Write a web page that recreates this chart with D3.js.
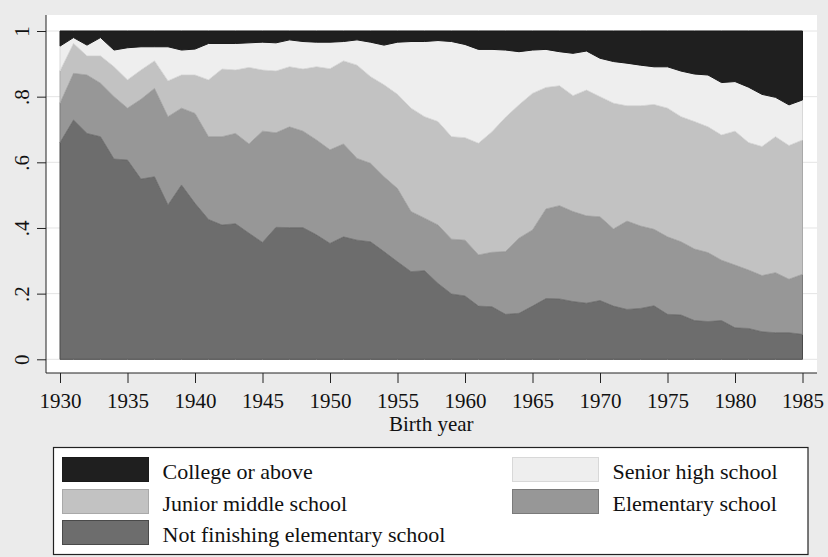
<!DOCTYPE html>
<html>
<head>
<meta charset="utf-8">
<script src="https://cdn.jsdelivr.net/npm/d3@7"></script>
<style>
  html, body { margin: 0; padding: 0; background: #ebebeb; }
  svg { display: block; }
  text { font-family: "Liberation Serif", "Times New Roman", serif; fill: #111; }
</style>
</head>
<body>
<svg id="chart" width="828" height="557"></svg>
<script>
const years = d3.range(1930, 1986);

const notFinishing = [0.660,0.729,0.688,0.678,0.610,0.607,0.549,0.556,0.470,0.531,
  0.475,0.426,0.409,0.413,0.384,0.356,0.402,0.401,0.401,0.379,
  0.353,0.373,0.363,0.358,0.328,0.297,0.267,0.270,0.231,0.199,
  0.193,0.162,0.160,0.137,0.140,0.162,0.185,0.184,0.176,0.171,
  0.179,0.162,0.152,0.155,0.163,0.137,0.135,0.118,0.115,0.118,
  0.096,0.094,0.084,0.081,0.081,0.076];

const elementary = [0.120,0.142,0.178,0.163,0.190,0.158,0.243,0.269,0.269,0.234,
  0.274,0.252,0.269,0.275,0.272,0.339,0.288,0.307,0.294,0.289,
  0.285,0.283,0.249,0.239,0.228,0.223,0.183,0.160,0.178,0.167,
  0.170,0.156,0.166,0.191,0.229,0.232,0.273,0.284,0.274,0.266,
  0.255,0.235,0.269,0.251,0.233,0.236,0.223,0.218,0.210,0.184,
  0.191,0.178,0.171,0.183,0.163,0.183];

const junior = [0.098,0.091,0.058,0.083,0.091,0.086,0.089,0.084,0.109,0.101,
  0.117,0.173,0.206,0.193,0.233,0.186,0.188,0.183,0.189,0.223,
  0.247,0.253,0.284,0.264,0.280,0.287,0.315,0.309,0.315,0.312,
  0.312,0.340,0.367,0.409,0.406,0.416,0.370,0.365,0.353,0.383,
  0.366,0.383,0.351,0.366,0.380,0.392,0.381,0.388,0.383,0.381,
  0.408,0.388,0.393,0.414,0.407,0.409];

const senior = [0.076,0.018,0.033,0.056,0.051,0.098,0.071,0.043,0.104,0.076,
  0.079,0.111,0.078,0.081,0.075,0.085,0.086,0.082,0.084,0.075,
  0.081,0.059,0.077,0.105,0.121,0.159,0.203,0.229,0.247,0.290,
  0.284,0.286,0.251,0.205,0.162,0.132,0.116,0.104,0.129,0.119,
  0.117,0.127,0.130,0.124,0.115,0.126,0.139,0.145,0.158,0.160,
  0.151,0.169,0.159,0.120,0.124,0.122];

const college = [0.046,0.020,0.043,0.020,0.058,0.051,0.048,0.048,0.048,0.058,
  0.055,0.038,0.038,0.038,0.036,0.034,0.036,0.027,0.032,0.034,
  0.034,0.032,0.027,0.034,0.043,0.034,0.032,0.032,0.029,0.032,
  0.041,0.056,0.056,0.058,0.063,0.058,0.056,0.063,0.068,0.061,
  0.083,0.093,0.098,0.104,0.109,0.109,0.122,0.131,0.134,0.157,
  0.154,0.171,0.193,0.202,0.225,0.210];

const seriesKeys = ["notFinishing", "elementary", "junior", "senior", "college"];
const seriesLabels = {
  college: "College or above",
  senior: "Senior high school",
  junior: "Junior middle school",
  elementary: "Elementary school",
  notFinishing: "Not finishing elementary school"
};
const seriesColors = {
  college: "#1f1f1f",
  senior: "#eeeeee",
  junior: "#c2c2c2",
  elementary: "#979797",
  notFinishing: "#6d6d6d"
};
const strokeColors = {
  college: "#1a1a1a",
  senior: "#d8d8d8",
  junior: "#a9a9a9",
  elementary: "#7a7a7a",
  notFinishing: "#4a4a4a"
};
const xTicks = [1930,1935,1940,1945,1950,1955,1960,1965,1970,1975,1980,1985];
const yTicks = [0, 0.2, 0.4, 0.6, 0.8, 1];
const yTickLabels = ["0", ".2", ".4", ".6", ".8", "1"];

const table = years.map((yr, i) => ({
  year: yr,
  notFinishing: notFinishing[i],
  elementary: elementary[i],
  junior: junior[i],
  senior: senior[i],
  college: college[i]
}));

const svg = d3.select("#chart");

// plot region (white)
const region = { left: 46, right: 817, top: 15, bottom: 373 };
svg.append("rect")
  .attr("x", region.left).attr("y", region.top)
  .attr("width", region.right - region.left)
  .attr("height", region.bottom - region.top)
  .attr("fill", "#ffffff");

const x = d3.scaleLinear().domain([1930, 1985]).range([60, 802.5]);
const y = d3.scaleLinear().domain([0, 1]).range([359.3, 31]);

// gridlines
svg.append("g").selectAll("line").data(yTicks).join("line")
  .attr("x1", region.left).attr("x2", region.right)
  .attr("y1", d => y(d)).attr("y2", d => y(d))
  .attr("stroke", "#e4e4e4").attr("stroke-width", 1);

// stacked areas
const stack = d3.stack().keys(seriesKeys);
const stacked = stack(table);
const area = d3.area()
  .x(d => x(d.data.year))
  .y0(d => y(d[0]))
  .y1(d => y(d[1]))
  .curve(d3.curveLinear);

svg.append("g").selectAll("path").data(stacked).join("path")
  .attr("d", area)
  .attr("fill", d => seriesColors[d.key])
  .attr("stroke", d => strokeColors[d.key])
  .attr("stroke-width", 1)
  .attr("stroke-linejoin", "round");

// y axis
const yAxis = d3.axisLeft(y).tickValues(yTicks).tickSize(9).tickFormat((d, i) => yTickLabels[i]);
const gy = svg.append("g").attr("transform", `translate(${region.left},0)`).call(yAxis);
gy.select(".domain").attr("d", `M0,${region.top}V${region.bottom}`).attr("stroke", "#222");
gy.selectAll(".tick line").attr("stroke", "#222");
gy.selectAll(".tick text")
  .attr("x", 0).attr("y", 0).attr("dy", null)
  .attr("text-anchor", "middle")
  .attr("transform", "translate(-17,0) rotate(-90)")
  .style("font-family", "'Liberation Serif', serif")
  .style("font-size", "21px")
  .attr("fill", "#111");

// x axis
const xAxis = d3.axisBottom(x).tickValues(xTicks).tickSize(10).tickFormat(d3.format("d"));
const gx = svg.append("g").attr("transform", `translate(0,${region.bottom})`).call(xAxis);
gx.select(".domain").attr("d", `M${region.left},0H${region.right}`).attr("stroke", "#222");
gx.selectAll(".tick line").attr("stroke", "#222");
gx.selectAll(".tick text")
  .attr("y", 35).attr("dy", null)
  .style("font-family", "'Liberation Serif', serif")
  .style("font-size", "21px")
  .attr("fill", "#111");

// x axis title
svg.append("text")
  .attr("x", (x(1930) + x(1985)) / 2).attr("y", 431)
  .attr("text-anchor", "middle")
  .style("font-size", "21px")
  .text("Birth year");

// legend
const legend = svg.append("g");
legend.append("rect")
  .attr("x", 53.5).attr("y", 447.5).attr("width", 754.5).attr("height", 107)
  .attr("fill", "#ffffff").attr("stroke", "#222").attr("stroke-width", 1.2);

const legendOrder = ["college", "senior", "junior", "elementary", "notFinishing"];
const colX = [62, 512];
const rowY = [457, 489, 520];
legendOrder.forEach((k, i) => {
  const cx = colX[i % 2];
  const ry = rowY[Math.floor(i / 2)];
  legend.append("rect")
    .attr("x", cx + 0.5).attr("y", ry + 0.5).attr("width", 86).attr("height", 24)
    .attr("fill", seriesColors[k]).attr("stroke", strokeColors[k]).attr("stroke-width", 1);
  legend.append("text")
    .attr("x", cx + 100.5).attr("y", ry + 21.5)
    .style("font-size", "22px")
    .text(seriesLabels[k]);
});
</script>
</body>
</html>
